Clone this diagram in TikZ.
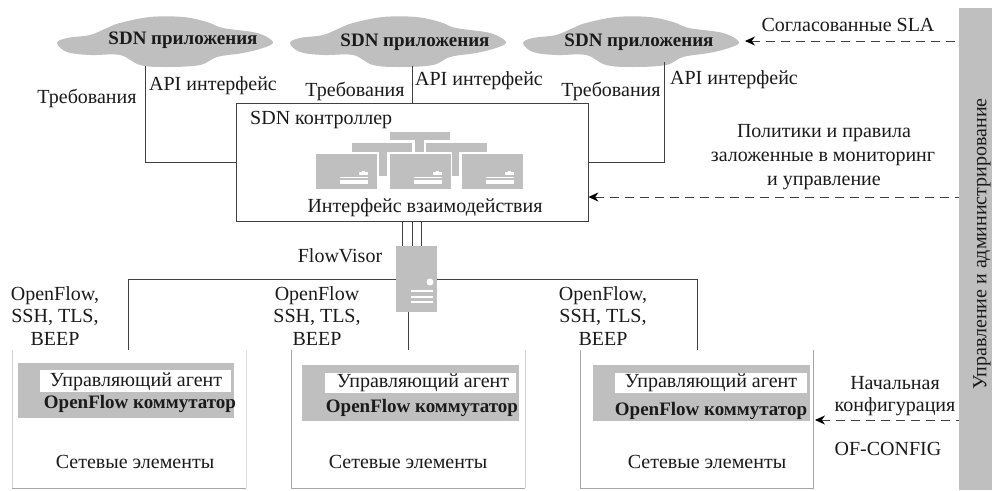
\documentclass[tikz,border=0pt]{standalone}
\usepackage{fontspec}
\setmainfont{Liberation Serif}
\usetikzlibrary{arrows.meta}
\definecolor{blk}{HTML}{BFBFBF}
\definecolor{lin}{HTML}{404040}
\definecolor{txt}{HTML}{1A1A1A}
\tikzset{
  every node/.style={text=txt,font=\fontsize{20}{23}\selectfont,inner sep=0pt},
  boldtxt/.style={font=\fontsize{19}{22}\selectfont\bfseries},
  stack/.style={align=center,font=\fontsize{20}{22.5}\selectfont},
  wire/.style={draw=lin,line width=1pt},
  dash arrow/.style={draw=lin,line width=1pt,dash pattern=on 9pt off 6pt,{Stealth[length=10pt,width=9pt,black]}-},
  gfill/.style={fill=blk,draw=none},
  frame/.style={draw=gray!70,line width=0.8pt},
}
\newcommand{\cloudat}[1]{\fill[blk,xshift=#1pt] plot[smooth cycle,tension=0.6] coordinates {(57,43)(67,38)(90,35)(107,28)(120,23)(150,17)(183,17)(207,22)(223,28)(257,33)(273,42)(263,48)(243,53)(217,57)(200,65)(167,67)(140,65)(120,55)(90,55)(67,52)};}
\newcommand{\iconat}[1]{%
  \fill[blk,xshift=#1pt] (0,0) rectangle (61,35);
  \fill[white,xshift=#1pt] (24,26) rectangle (52,30);
  \fill[white,xshift=#1pt] (24,23) rectangle (52,24);
  \fill[white,xshift=#1pt] (43,18) rectangle (52,20.5);
  \fill[white,xshift=#1pt] (46,17) rectangle (49,18);}
\begin{document}
\begin{tikzpicture}[x=1pt,y=-1pt]
\useasboundingbox (0,0) rectangle (992,490);
% strip
\fill[blk] (959,8) rectangle (992,490);
\node[rotate=90] (mgmt) at (982,244) {Управление и администрирование};
% clouds
\cloudat{0}\cloudat{233}\cloudat{466}
\node[boldtxt] (app1) at (183,40) {SDN приложения};
\node[boldtxt] (app2) at (415,42) {SDN приложения};
\node[boldtxt] (app3) at (639,42) {SDN приложения};
\coordinate (c1) at (145,66);
\coordinate (c2) at (412,66);
\coordinate (c3) at (664,62);
\coordinate (c3e) at (745,41);
% controller
\node[draw=lin,line width=0.8pt,minimum width=352pt,minimum height=118pt,fill=white] (ctrl) at (412,162) {};
\node[anchor=west] (ctrlT) at (250,120) {SDN контроллер};
\node (ctrlI) at (425,208) {Интерфейс взаимодействия};
\fill[blk] (390,132) rectangle (450,140);
\fill[blk] (352,143) rectangle (412,152);
\fill[blk] (426,143) rectangle (487,152);
\fill[blk] (415,140) rectangle (424,152);
\fill[blk] (379,152) rectangle (387,176);
\fill[blk] (452,152) rectangle (459,176);
\begin{scope}[yshift=-154pt]
\iconat{316}\iconat{390}\iconat{462}
\end{scope}
% wires to controller
\draw[wire] (c1) |- (ctrl.west |- 0,162);
\draw[wire] (c2) -- (ctrl.north -| c2);
\draw[wire] (c3) |- (ctrl.east |- 0,162);
% server
\node[gfill,minimum width=41pt,minimum height=66pt] (srv) at (416.5,279) {};
\fill[white] (430,282) circle (3.5);
\foreach \yy in {291,297,302} \fill[white] (411,\yy-1) rectangle (433,\yy+1);
\draw[wire] (402,221) -- (402,246);
\draw[wire] (412,221) -- (412,246);
\draw[wire] (421,221) -- (421,246);
% network boxes
\draw[draw=gray!35,line width=0.8pt] (12,350) -- (12,488);
\draw[frame] (12,488) -- (246,488);
\draw[draw=gray!25,line width=0.6pt] (246,350) -- (246,488);
\draw[frame] (291,350) -- (291,488) -- (525,488);
\draw[draw=gray!35,line width=0.8pt] (525,350) -- (525,488);
\draw[frame] (580,350) |- (813,488) -- (813,350);
\coordinate (net1) at (128,350);
\coordinate (net2) at (408,350);
\coordinate (net3) at (697,350);
\draw[wire] (srv.west |- 0,279) -| (net1);
\draw[wire] (srv.east |- 0,279) -| (net3);
\draw[wire] (408,312) -- (net2);
% switches
\fill[blk] (18,363) rectangle (234,418);
\fill[white] (40,370) rectangle (231,392);
\fill[blk] (302,365) rectangle (519,421);
\fill[white] (325,373) rectangle (516,393);
\fill[blk] (593,365) rectangle (810,421);
\fill[white] (615,373) rectangle (807,393);
\node (ua1) at (136,382) {Управляющий агент};
\node (ua2) at (423,383) {Управляющий агент};
\node (ua3) at (711,383) {Управляющий агент};
\node[boldtxt] (of1) at (140,404) {OpenFlow коммутатор};
\node[boldtxt] (of2) at (422,408) {OpenFlow коммутатор};
\node[boldtxt] (of3) at (711,411) {OpenFlow коммутатор};
\node (ne1) at (135,462) {Сетевые элементы};
\node (ne2) at (408,462) {Сетевые элементы};
\node (ne3) at (707,462) {Сетевые элементы};
% labels
\node (r1) at (87,98) {Требования};
\node (r2) at (355,91) {Требования};
\node (r3) at (611,91) {Требования};
\node (a1) at (213,86) {API интерфейс};
\node (a2) at (479,81) {API интерфейс};
\node (a3) at (734,80) {API интерфейс};
\node (sla) at (848,25) {Согласованные SLA};
\node (p1) at (824,133) {Политики и правила};
\node (p2) at (823,159) {заложенные в мониторинг};
\node (p3) at (824,183) {и управление};
\node (fv) at (340,256) {FlowVisor};
\node[stack] (pr1) at (55,316) {OpenFlow,\\SSH, TLS,\\BEEP};
\node[stack] (pr2) at (317,316) {OpenFlow\\SSH, TLS,\\BEEP};
\node[stack] (pr3) at (603,316) {OpenFlow,\\SSH, TLS,\\BEEP};
\node (nc1) at (895,383) {Начальная};
\node (nc2) at (895,407) {конфигурация};
\node (ofc) at (888,449) {OF-CONFIG};
% dashed
\coordinate (d1s) at (959,41);
\coordinate (d2s) at (959,197);
\coordinate (d3s) at (959,420);
\draw[dash arrow] (c3e) -- (d1s);
\draw[dash arrow] (ctrl.east |- d2s) -- (d2s);
\coordinate (d3e) at (815,420);
\draw[dash arrow] (d3e) -- (d3s);
\end{tikzpicture}
\end{document}
